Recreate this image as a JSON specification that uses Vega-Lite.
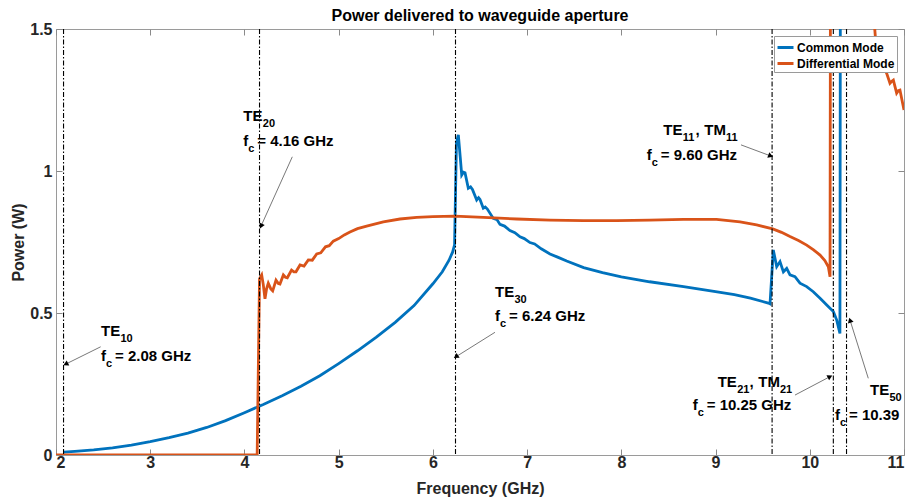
{
  "$schema": "https://vega.github.io/schema/vega-lite/v6.json",
  "width": 848,
  "height": 426,
  "autosize": {"type": "none"},
  "padding": {"left": 56, "top": 29, "right": 9, "bottom": 46},
  "title": {
    "text": "Power delivered to waveguide aperture",
    "font": "Liberation Sans",
    "fontSize": 16,
    "fontWeight": "bold",
    "color": "#000000",
    "anchor": "middle",
    "offset": -3
  },
  "config": {
    "font": "Liberation Sans",
    "view": {"stroke": "#9a9a9a", "strokeWidth": 1},
    "axis": {
      "grid": false,
      "domain": false,
      "tickColor": "#8a8a8a",
      "tickSize": -6,
      "labelFont": "Liberation Sans",
      "labelFontSize": 16,
      "labelFontWeight": "bold",
      "labelColor": "#262626",
      "titleFont": "Liberation Sans",
      "titleFontSize": 16,
      "titleFontWeight": "bold",
      "titleColor": "#262626"
    },
    "legend": {
      "orient": "top-right",
      "offset": 7,
      "fillColor": "#ffffff",
      "strokeColor": "#9a9a9a",
      "padding": 2,
      "rowPadding": 0,
      "labelFont": "Liberation Sans",
      "labelFontSize": 12,
      "labelFontWeight": "bold",
      "labelColor": "#000000",
      "labelOffset": 2,
      "symbolType": "stroke",
      "symbolStrokeWidth": 3,
      "symbolSize": 256
    }
  },
  "datasets": {
    "curves": [
      {"mode": "Common Mode", "f": 2.08, "p": 0.010},
      {"mode": "Common Mode", "f": 2.2, "p": 0.013},
      {"mode": "Common Mode", "f": 2.4, "p": 0.018},
      {"mode": "Common Mode", "f": 2.6, "p": 0.025},
      {"mode": "Common Mode", "f": 2.8, "p": 0.035},
      {"mode": "Common Mode", "f": 3.0, "p": 0.047},
      {"mode": "Common Mode", "f": 3.2, "p": 0.061},
      {"mode": "Common Mode", "f": 3.4, "p": 0.077},
      {"mode": "Common Mode", "f": 3.6, "p": 0.097},
      {"mode": "Common Mode", "f": 3.8, "p": 0.121},
      {"mode": "Common Mode", "f": 4.0, "p": 0.149},
      {"mode": "Common Mode", "f": 4.2, "p": 0.178},
      {"mode": "Common Mode", "f": 4.4, "p": 0.209},
      {"mode": "Common Mode", "f": 4.6, "p": 0.242},
      {"mode": "Common Mode", "f": 4.8, "p": 0.279},
      {"mode": "Common Mode", "f": 5.0, "p": 0.322},
      {"mode": "Common Mode", "f": 5.2, "p": 0.367},
      {"mode": "Common Mode", "f": 5.4, "p": 0.415},
      {"mode": "Common Mode", "f": 5.6, "p": 0.467},
      {"mode": "Common Mode", "f": 5.8, "p": 0.526},
      {"mode": "Common Mode", "f": 6.0, "p": 0.603},
      {"mode": "Common Mode", "f": 6.1, "p": 0.645},
      {"mode": "Common Mode", "f": 6.17, "p": 0.685},
      {"mode": "Common Mode", "f": 6.21, "p": 0.715},
      {"mode": "Common Mode", "f": 6.23, "p": 0.74},
      {"mode": "Common Mode", "f": 6.25, "p": 1.10},
      {"mode": "Common Mode", "f": 6.27, "p": 1.127},
      {"mode": "Common Mode", "f": 6.29, "p": 1.05},
      {"mode": "Common Mode", "f": 6.306, "p": 0.986},
      {"mode": "Common Mode", "f": 6.325, "p": 0.996},
      {"mode": "Common Mode", "f": 6.341, "p": 0.994},
      {"mode": "Common Mode", "f": 6.376, "p": 0.939},
      {"mode": "Common Mode", "f": 6.40, "p": 0.944},
      {"mode": "Common Mode", "f": 6.42, "p": 0.935},
      {"mode": "Common Mode", "f": 6.465, "p": 0.898},
      {"mode": "Common Mode", "f": 6.485, "p": 0.906},
      {"mode": "Common Mode", "f": 6.50, "p": 0.900},
      {"mode": "Common Mode", "f": 6.535, "p": 0.869},
      {"mode": "Common Mode", "f": 6.556, "p": 0.873},
      {"mode": "Common Mode", "f": 6.578, "p": 0.866},
      {"mode": "Common Mode", "f": 6.641, "p": 0.833},
      {"mode": "Common Mode", "f": 6.68, "p": 0.829},
      {"mode": "Common Mode", "f": 6.712, "p": 0.812},
      {"mode": "Common Mode", "f": 6.76, "p": 0.806},
      {"mode": "Common Mode", "f": 6.818, "p": 0.790},
      {"mode": "Common Mode", "f": 6.87, "p": 0.783},
      {"mode": "Common Mode", "f": 6.925, "p": 0.768},
      {"mode": "Common Mode", "f": 6.97, "p": 0.762},
      {"mode": "Common Mode", "f": 7.03, "p": 0.748},
      {"mode": "Common Mode", "f": 7.08, "p": 0.743},
      {"mode": "Common Mode", "f": 7.15, "p": 0.726},
      {"mode": "Common Mode", "f": 7.243, "p": 0.708},
      {"mode": "Common Mode", "f": 7.33, "p": 0.696},
      {"mode": "Common Mode", "f": 7.42, "p": 0.683},
      {"mode": "Common Mode", "f": 7.6, "p": 0.660},
      {"mode": "Common Mode", "f": 7.8, "p": 0.642},
      {"mode": "Common Mode", "f": 8.0, "p": 0.627},
      {"mode": "Common Mode", "f": 8.3, "p": 0.610},
      {"mode": "Common Mode", "f": 8.66, "p": 0.593},
      {"mode": "Common Mode", "f": 9.0, "p": 0.575},
      {"mode": "Common Mode", "f": 9.2, "p": 0.565},
      {"mode": "Common Mode", "f": 9.37, "p": 0.552},
      {"mode": "Common Mode", "f": 9.56, "p": 0.535},
      {"mode": "Common Mode", "f": 9.578, "p": 0.532},
      {"mode": "Common Mode", "f": 9.613, "p": 0.722},
      {"mode": "Common Mode", "f": 9.649, "p": 0.663},
      {"mode": "Common Mode", "f": 9.684, "p": 0.681},
      {"mode": "Common Mode", "f": 9.72, "p": 0.645},
      {"mode": "Common Mode", "f": 9.755, "p": 0.657},
      {"mode": "Common Mode", "f": 9.79, "p": 0.634},
      {"mode": "Common Mode", "f": 9.843, "p": 0.628},
      {"mode": "Common Mode", "f": 9.896, "p": 0.605},
      {"mode": "Common Mode", "f": 9.967, "p": 0.593},
      {"mode": "Common Mode", "f": 10.037, "p": 0.575},
      {"mode": "Common Mode", "f": 10.109, "p": 0.552},
      {"mode": "Common Mode", "f": 10.18, "p": 0.528},
      {"mode": "Common Mode", "f": 10.25, "p": 0.505},
      {"mode": "Common Mode", "f": 10.286, "p": 0.475},
      {"mode": "Common Mode", "f": 10.32, "p": 0.428},
      {"mode": "Common Mode", "f": 10.33, "p": 3.0},
      {"mode": "Differential Mode", "f": 2.0, "p": 0.0},
      {"mode": "Differential Mode", "f": 4.135, "p": 0.0},
      {"mode": "Differential Mode", "f": 4.16, "p": 0.62},
      {"mode": "Differential Mode", "f": 4.183, "p": 0.634},
      {"mode": "Differential Mode", "f": 4.20, "p": 0.60},
      {"mode": "Differential Mode", "f": 4.218, "p": 0.550},
      {"mode": "Differential Mode", "f": 4.235, "p": 0.585},
      {"mode": "Differential Mode", "f": 4.253, "p": 0.605},
      {"mode": "Differential Mode", "f": 4.28, "p": 0.585},
      {"mode": "Differential Mode", "f": 4.30, "p": 0.578},
      {"mode": "Differential Mode", "f": 4.335, "p": 0.616},
      {"mode": "Differential Mode", "f": 4.36, "p": 0.604},
      {"mode": "Differential Mode", "f": 4.377, "p": 0.602},
      {"mode": "Differential Mode", "f": 4.413, "p": 0.634},
      {"mode": "Differential Mode", "f": 4.435, "p": 0.626},
      {"mode": "Differential Mode", "f": 4.455, "p": 0.624},
      {"mode": "Differential Mode", "f": 4.50, "p": 0.651},
      {"mode": "Differential Mode", "f": 4.525, "p": 0.645},
      {"mode": "Differential Mode", "f": 4.547, "p": 0.645},
      {"mode": "Differential Mode", "f": 4.59, "p": 0.669},
      {"mode": "Differential Mode", "f": 4.632, "p": 0.665},
      {"mode": "Differential Mode", "f": 4.678, "p": 0.687},
      {"mode": "Differential Mode", "f": 4.72, "p": 0.686},
      {"mode": "Differential Mode", "f": 4.767, "p": 0.708},
      {"mode": "Differential Mode", "f": 4.81, "p": 0.712},
      {"mode": "Differential Mode", "f": 4.86, "p": 0.733},
      {"mode": "Differential Mode", "f": 4.9, "p": 0.737},
      {"mode": "Differential Mode", "f": 4.943, "p": 0.753},
      {"mode": "Differential Mode", "f": 5.0, "p": 0.762},
      {"mode": "Differential Mode", "f": 5.06, "p": 0.775},
      {"mode": "Differential Mode", "f": 5.12, "p": 0.785},
      {"mode": "Differential Mode", "f": 5.2, "p": 0.797},
      {"mode": "Differential Mode", "f": 5.297, "p": 0.806},
      {"mode": "Differential Mode", "f": 5.474, "p": 0.821},
      {"mode": "Differential Mode", "f": 5.651, "p": 0.831},
      {"mode": "Differential Mode", "f": 5.828, "p": 0.837},
      {"mode": "Differential Mode", "f": 6.0, "p": 0.839},
      {"mode": "Differential Mode", "f": 6.235, "p": 0.841},
      {"mode": "Differential Mode", "f": 6.535, "p": 0.837},
      {"mode": "Differential Mode", "f": 6.89, "p": 0.831},
      {"mode": "Differential Mode", "f": 7.243, "p": 0.827},
      {"mode": "Differential Mode", "f": 7.597, "p": 0.825},
      {"mode": "Differential Mode", "f": 7.95, "p": 0.825},
      {"mode": "Differential Mode", "f": 8.30, "p": 0.827},
      {"mode": "Differential Mode", "f": 8.66, "p": 0.830},
      {"mode": "Differential Mode", "f": 9.01, "p": 0.830},
      {"mode": "Differential Mode", "f": 9.26, "p": 0.821},
      {"mode": "Differential Mode", "f": 9.436, "p": 0.81},
      {"mode": "Differential Mode", "f": 9.607, "p": 0.796},
      {"mode": "Differential Mode", "f": 9.70, "p": 0.784},
      {"mode": "Differential Mode", "f": 9.79, "p": 0.769},
      {"mode": "Differential Mode", "f": 9.88, "p": 0.755},
      {"mode": "Differential Mode", "f": 9.967, "p": 0.739},
      {"mode": "Differential Mode", "f": 10.04, "p": 0.722},
      {"mode": "Differential Mode", "f": 10.109, "p": 0.704},
      {"mode": "Differential Mode", "f": 10.16, "p": 0.685},
      {"mode": "Differential Mode", "f": 10.197, "p": 0.663},
      {"mode": "Differential Mode", "f": 10.215, "p": 0.628},
      {"mode": "Differential Mode", "f": 10.225, "p": 3.0},
      {"mode": "Differential Mode", "f": 10.66, "p": 3.0},
      {"mode": "Differential Mode", "f": 10.685, "p": 1.52},
      {"mode": "Differential Mode", "f": 10.70, "p": 1.455},
      {"mode": "Differential Mode", "f": 10.745, "p": 1.402},
      {"mode": "Differential Mode", "f": 10.78, "p": 1.367},
      {"mode": "Differential Mode", "f": 10.816, "p": 1.344},
      {"mode": "Differential Mode", "f": 10.851, "p": 1.309},
      {"mode": "Differential Mode", "f": 10.87, "p": 1.316},
      {"mode": "Differential Mode", "f": 10.887, "p": 1.32},
      {"mode": "Differential Mode", "f": 10.922, "p": 1.274},
      {"mode": "Differential Mode", "f": 10.94, "p": 1.283},
      {"mode": "Differential Mode", "f": 10.957, "p": 1.285},
      {"mode": "Differential Mode", "f": 10.993, "p": 1.226},
      {"mode": "Differential Mode", "f": 11.0, "p": 1.215}
    ],
    "cutoffs": [
      {"fc": 2.08}, {"fc": 4.16}, {"fc": 6.24}, {"fc": 9.60}, {"fc": 10.25}, {"fc": 10.39}
    ],
    "labels": [
      {"t": "TE", "kind": "main", "f": 2.4776, "p": 0.4190},
      {"t": "10", "kind": "sub", "f": 2.6846, "p": 0.3979},
      {"t": "f", "kind": "main", "f": 2.4776, "p": 0.3310},
      {"t": "c", "kind": "sub", "f": 2.5307, "p": 0.3099},
      {"t": "= 2.08 GHz", "kind": "main", "f": 2.6262, "p": 0.3310},

      {"t": "TE", "kind": "main", "f": 3.9879, "p": 1.1761},
      {"t": "20", "kind": "sub", "f": 4.1948, "p": 1.1549},
      {"t": "f", "kind": "main", "f": 3.9879, "p": 1.0880},
      {"t": "c", "kind": "sub", "f": 4.0409, "p": 1.0669},
      {"t": "= 4.16 GHz", "kind": "main", "f": 4.1364, "p": 1.0880},

      {"t": "TE", "kind": "main", "f": 6.6592, "p": 0.5563},
      {"t": "30", "kind": "sub", "f": 6.8662, "p": 0.5352},
      {"t": "f", "kind": "main", "f": 6.6592, "p": 0.4718},
      {"t": "c", "kind": "sub", "f": 6.7123, "p": 0.4507},
      {"t": "= 6.24 GHz", "kind": "main", "f": 6.8078, "p": 0.4718},

      {"t": "TE", "kind": "main", "f": 8.4454, "p": 1.1268},
      {"t": "11", "kind": "sub", "f": 8.6523, "p": 1.1056},
      {"t": ",", "kind": "main", "f": 8.7871, "p": 1.1268},
      {"t": "TM", "kind": "main", "f": 8.8805, "p": 1.1268},
      {"t": "11", "kind": "sub", "f": 9.1108, "p": 1.1056},
      {"t": "f", "kind": "main", "f": 8.2692, "p": 1.0387},
      {"t": "c", "kind": "sub", "f": 8.3223, "p": 1.0176},
      {"t": "= 9.60 GHz", "kind": "main", "f": 8.4178, "p": 1.0387},

      {"t": "TE", "kind": "main", "f": 9.0227, "p": 0.2394},
      {"t": "21", "kind": "sub", "f": 9.2297, "p": 0.2183},
      {"t": ",", "kind": "main", "f": 9.3602, "p": 0.2394},
      {"t": "TM", "kind": "main", "f": 9.4536, "p": 0.2394},
      {"t": "21", "kind": "sub", "f": 9.6839, "p": 0.2183},
      {"t": "f", "kind": "main", "f": 8.7574, "p": 0.1585},
      {"t": "c", "kind": "sub", "f": 8.8104, "p": 0.1373},
      {"t": "= 10.25 GHz", "kind": "main", "f": 8.9060, "p": 0.1585},

      {"t": "TE", "kind": "main", "f": 10.6392, "p": 0.2113},
      {"t": "50", "kind": "sub", "f": 10.8461, "p": 0.1901},
      {"t": "f", "kind": "main", "f": 10.2677, "p": 0.1232},
      {"t": "c", "kind": "sub", "f": 10.3207, "p": 0.1021},
      {"t": "= 10.39", "kind": "main", "f": 10.4162, "p": 0.1232}
    ],
    "arrows": [
      {"fs": 2.474, "ps": 0.381, "fe": 2.103, "pe": 0.320, "ang": 153.7},
      {"fs": 4.508, "ps": 1.050, "fe": 4.176, "pe": 0.806, "ang": 114.3},
      {"fs": 6.659, "ps": 0.432, "fe": 6.245, "pe": 0.346, "ang": 148.0},
      {"fs": 9.270, "ps": 1.092, "fe": 9.585, "pe": 1.053, "ang": 20.3},
      {"fs": 9.843, "ps": 0.211, "fe": 10.215, "pe": 0.276, "ang": 332.4},
      {"fs": 10.621, "ps": 0.270, "fe": 10.427, "pe": 0.475, "ang": 252.6}
    ]
  },
  "layer": [
    {
      "data": {"name": "curves"},
      "mark": {"type": "line", "strokeWidth": 2.8, "clip": true, "interpolate": "linear"},
      "encoding": {
        "x": {
          "field": "f", "type": "quantitative",
          "scale": {"domain": [2, 11], "nice": false, "zero": false},
          "axis": {
            "orient": "bottom",
            "title": "Frequency (GHz)",
            "values": [2, 3, 4, 5, 6, 7, 8, 9, 10, 11],
            "format": "d",
            "labelPadding": 5,
            "titlePadding": 10
          }
        },
        "y": {
          "field": "p", "type": "quantitative",
          "scale": {"domain": [0, 1.5], "nice": false, "zero": false},
          "axis": {
            "orient": "left",
            "title": "Power (W)",
            "values": [0, 0.5, 1, 1.5],
            "format": "~g",
            "labelPadding": 10,
            "titlePadding": 3
          }
        },
        "color": {
          "field": "mode", "type": "nominal",
          "scale": {"domain": ["Common Mode", "Differential Mode"], "range": ["#0072BD", "#D95319"]},
          "legend": {"title": null}
        },
        "order": {"field": "f", "type": "quantitative"}
      }
    },
    {
      "data": {"name": "cutoffs"},
      "mark": {"type": "rule", "color": "#000000", "strokeWidth": 1.1, "strokeDash": [5, 2, 1.5, 2]},
      "encoding": {
        "x": {
          "field": "fc", "type": "quantitative",
          "scale": {"domain": [2, 11], "nice": false, "zero": false},
          "axis": {
            "orient": "top",
            "title": null,
            "labels": false,
            "values": [2, 3, 4, 5, 6, 7, 8, 9, 10, 11]
          }
        }
      }
    },
    {
      "data": {"name": "arrows"},
      "mark": {"type": "rule", "color": "#555555", "strokeWidth": 0.8},
      "encoding": {
        "x": {"field": "fs", "type": "quantitative", "scale": {"domain": [2, 11], "nice": false, "zero": false}, "axis": null},
        "y": {
          "field": "ps", "type": "quantitative",
          "scale": {"domain": [0, 1.5], "nice": false, "zero": false},
          "axis": {
            "orient": "right",
            "title": null,
            "labels": false,
            "values": [0, 0.5, 1, 1.5]
          }
        },
        "x2": {"field": "fe"},
        "y2": {"field": "pe"}
      }
    },
    {
      "data": {"name": "arrows"},
      "mark": {"type": "point", "shape": "triangle-right", "filled": true, "color": "#000000", "size": 34, "opacity": 1},
      "encoding": {
        "x": {"field": "fe", "type": "quantitative", "scale": {"domain": [2, 11], "nice": false, "zero": false}, "axis": null},
        "y": {"field": "pe", "type": "quantitative", "scale": {"domain": [0, 1.5], "nice": false, "zero": false}, "axis": null},
        "angle": {"field": "ang", "type": "quantitative", "scale": null}
      }
    },
    {
      "data": {"name": "labels"},
      "transform": [{"filter": "datum.kind === 'main'"}],
      "mark": {"type": "text", "align": "left", "baseline": "alphabetic", "font": "Liberation Sans", "fontSize": 15, "fontWeight": "bold", "color": "#000000"},
      "encoding": {
        "x": {"field": "f", "type": "quantitative", "scale": {"domain": [2, 11], "nice": false, "zero": false}, "axis": null},
        "y": {"field": "p", "type": "quantitative", "scale": {"domain": [0, 1.5], "nice": false, "zero": false}, "axis": null},
        "text": {"field": "t"}
      }
    },
    {
      "data": {"name": "labels"},
      "transform": [{"filter": "datum.kind === 'sub'"}],
      "mark": {"type": "text", "align": "left", "baseline": "alphabetic", "font": "Liberation Sans", "fontSize": 11, "fontWeight": "bold", "color": "#000000"},
      "encoding": {
        "x": {"field": "f", "type": "quantitative", "scale": {"domain": [2, 11], "nice": false, "zero": false}, "axis": null},
        "y": {"field": "p", "type": "quantitative", "scale": {"domain": [0, 1.5], "nice": false, "zero": false}, "axis": null},
        "text": {"field": "t"}
      }
    }
  ],
  "resolve": {"axis": {"x": "independent", "y": "independent"}}
}
